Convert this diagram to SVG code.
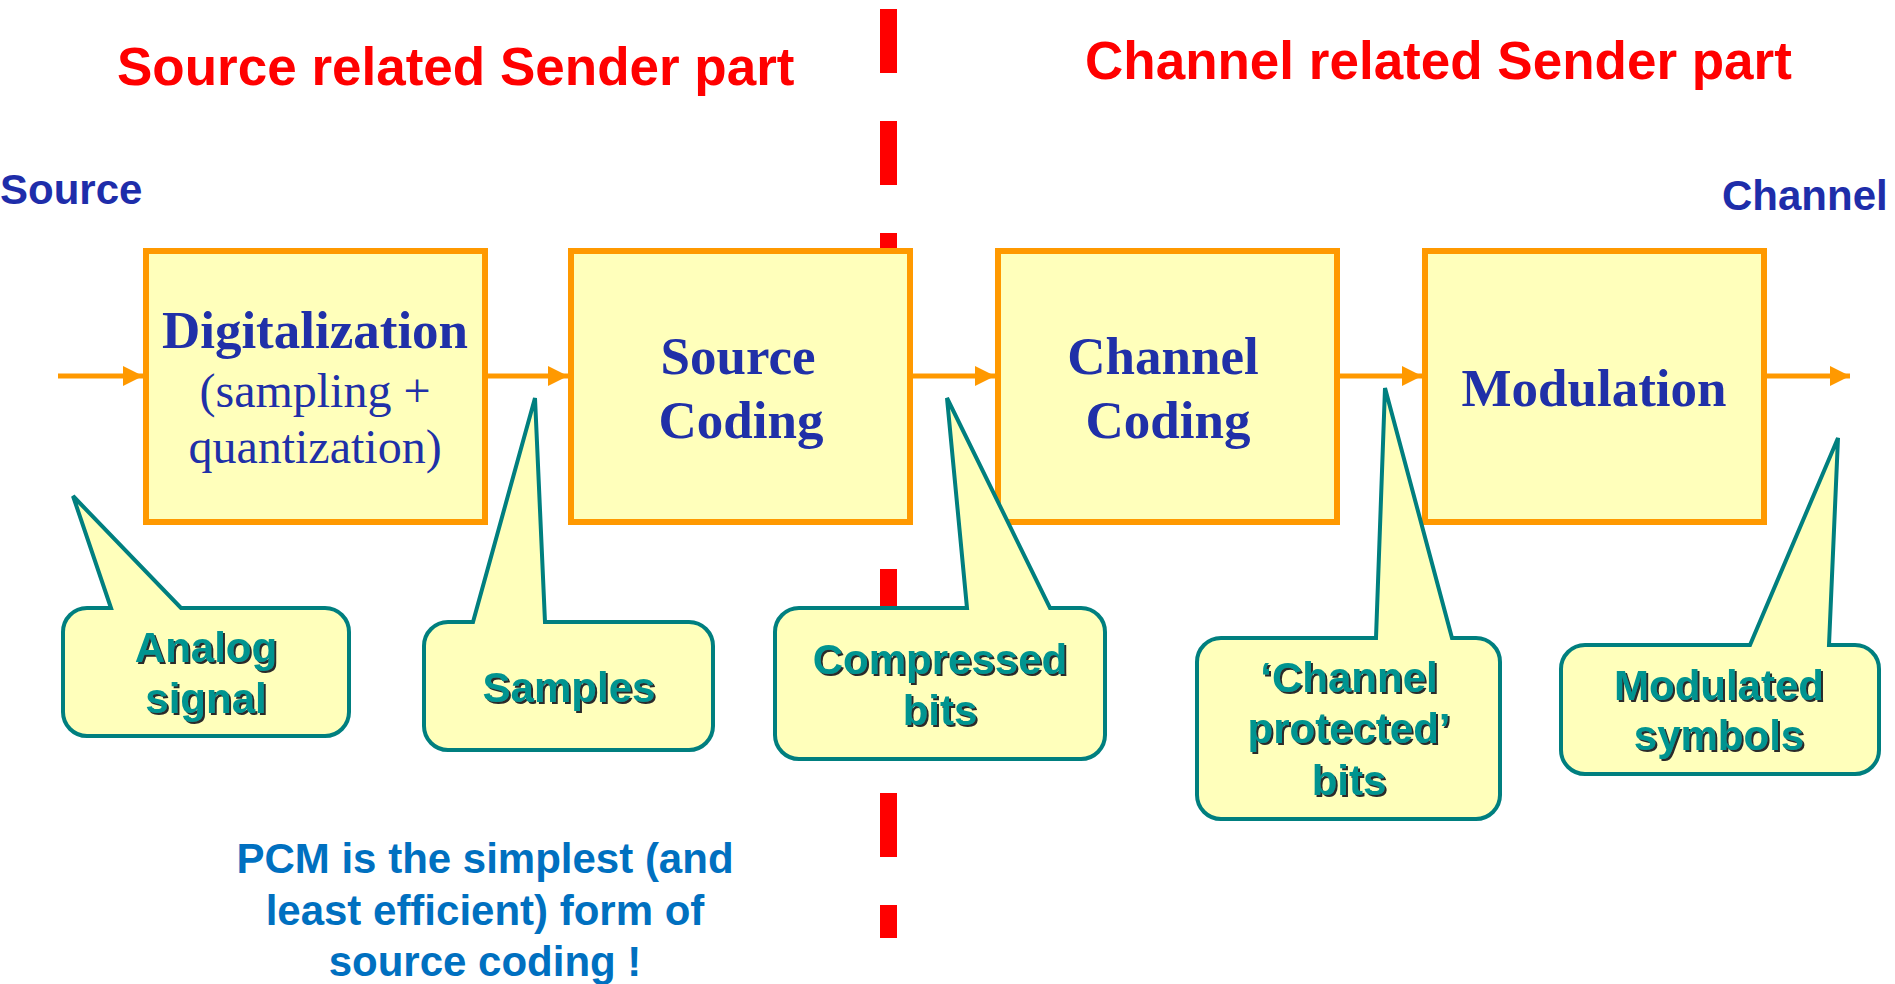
<svg xmlns="http://www.w3.org/2000/svg" width="1895" height="984" viewBox="0 0 1895 984">
<defs>
<style>
.title{font-family:"Liberation Sans",Arial,sans-serif;font-weight:bold;font-size:53px;fill:#FF0000}
.end{font-family:"Liberation Sans",Arial,sans-serif;font-weight:bold;font-size:42px;fill:#1E2DAA}
.box{fill:#FFFFBB;stroke:#FF9900;stroke-width:6}
.bt{font-family:"Liberation Serif","Times New Roman",serif;font-weight:bold;font-size:53px;fill:#2030A8;text-anchor:middle}
.bs{font-family:"Liberation Serif","Times New Roman",serif;font-size:48px;fill:#2030A8;text-anchor:middle}
.co{fill:#FFFFBB;stroke:#007F7F;stroke-width:4;stroke-linejoin:miter}
.ct{font-family:"Liberation Sans",Arial,sans-serif;font-weight:bold;font-size:42px;fill:#009490;text-anchor:middle;filter:url(#sh)}
.pcm{font-family:"Liberation Sans",Arial,sans-serif;font-weight:bold;font-size:42px;fill:#0070C0;text-anchor:middle}
.arr{stroke:#FF9900;stroke-width:5;fill:none;marker-end:url(#ah)}
</style>
<marker id="ah" markerUnits="userSpaceOnUse" markerWidth="22" markerHeight="22" refX="20" refY="10" orient="auto">
<path d="M0,0 L20,10 L0,20 z" fill="#FF9900"/>
</marker>
<filter id="sh" x="-10%" y="-20%" width="120%" height="140%">
<feOffset in="SourceAlpha" dx="2" dy="2" result="o"/>
<feFlood flood-color="#2a2a2a"/>
<feComposite in2="o" operator="in" result="s"/>
<feMerge><feMergeNode in="s"/><feMergeNode in="SourceGraphic"/></feMerge>
</filter>
</defs>
<rect width="1895" height="984" fill="#FFFFFF"/>

<g id="divider">
<line x1="888.5" y1="9" x2="888.5" y2="938" stroke="#FF0000" stroke-width="17" stroke-dasharray="64 48"/>
</g>

<g id="titles">
<text class="title" x="117" y="85">Source related Sender part</text>
<text class="title" x="1085" y="79">Channel related Sender part</text>
<text class="end" x="0" y="204">Source</text>
<text class="end" x="1722" y="210">Channel</text>
</g>

<g id="connectors">
<line class="arr" x1="58" y1="376" x2="143" y2="376"/>
<line class="arr" x1="488" y1="376" x2="568" y2="376"/>
<line class="arr" x1="913" y1="376" x2="995" y2="376"/>
<line class="arr" x1="1340" y1="376" x2="1422" y2="376"/>
<line class="arr" x1="1767" y1="376" x2="1850" y2="376"/>
</g>

<g id="digitalization">
<rect class="box" x="146" y="251" width="339" height="271"/>
<text class="bt" x="315" y="348">Digitalization</text>
<text class="bs" x="315" y="407">(sampling +</text>
<text class="bs" x="315" y="463">quantization)</text>
</g>

<g id="source-coding">
<rect class="box" x="571" y="251" width="339" height="271"/>
<text class="bt" x="738" y="374">Source</text>
<text class="bt" x="741" y="438">Coding</text>
</g>

<g id="channel-coding">
<rect class="box" x="998" y="251" width="339" height="271"/>
<text class="bt" x="1163" y="374">Channel</text>
<text class="bt" x="1168" y="438">Coding</text>
</g>

<g id="modulation">
<rect class="box" x="1425" y="251" width="339" height="271"/>
<text class="bt" x="1594" y="406">Modulation</text>
</g>

<g id="callout-analog">
<path class="co" d="M87 608 L111 608 L73 496 L181 608 L325 608 A24 24 0 0 1 349 632 L349 712 A24 24 0 0 1 325 736 L87 736 A24 24 0 0 1 63 712 L63 632 A24 24 0 0 1 87 608 Z"/>
<text class="ct" x="206" y="662">Analog</text>
<text class="ct" x="206" y="713">signal</text>
</g>

<g id="callout-samples">
<path class="co" d="M448 622 L473 622 L535 398 L545 622 L689 622 A24 24 0 0 1 713 646 L713 726 A24 24 0 0 1 689 750 L448 750 A24 24 0 0 1 424 726 L424 646 A24 24 0 0 1 448 622 Z"/>
<text class="ct" x="569" y="702">Samples</text>
</g>

<g id="callout-compressed">
<path class="co" d="M799 608 L967 608 L947 398 L1050 608 L1081 608 A24 24 0 0 1 1105 632 L1105 735 A24 24 0 0 1 1081 759 L799 759 A24 24 0 0 1 775 735 L775 632 A24 24 0 0 1 799 608 Z"/>
<text class="ct" x="940" y="674">Compressed</text>
<text class="ct" x="940" y="725">bits</text>
</g>

<g id="callout-protected">
<path class="co" d="M1221 638 L1376 638 L1385 388 L1452 638 L1476 638 A24 24 0 0 1 1500 662 L1500 795 A24 24 0 0 1 1476 819 L1221 819 A24 24 0 0 1 1197 795 L1197 662 A24 24 0 0 1 1221 638 Z"/>
<text class="ct" x="1349" y="692">‘Channel</text>
<text class="ct" x="1349" y="743">protected’</text>
<text class="ct" x="1349" y="795">bits</text>
</g>

<g id="callout-modulated">
<path class="co" d="M1585 645 L1750 645 L1838 438 L1829 645 L1855 645 A24 24 0 0 1 1879 669 L1879 750 A24 24 0 0 1 1855 774 L1585 774 A24 24 0 0 1 1561 750 L1561 669 A24 24 0 0 1 1585 645 Z"/>
<text class="ct" x="1719" y="700">Modulated</text>
<text class="ct" x="1719" y="750">symbols</text>
</g>

<g id="pcm-note">
<text class="pcm" x="485" y="873">PCM is the simplest (and</text>
<text class="pcm" x="485" y="925">least efficient) form of</text>
<text class="pcm" x="485" y="976">source coding !</text>
</g>
</svg>
